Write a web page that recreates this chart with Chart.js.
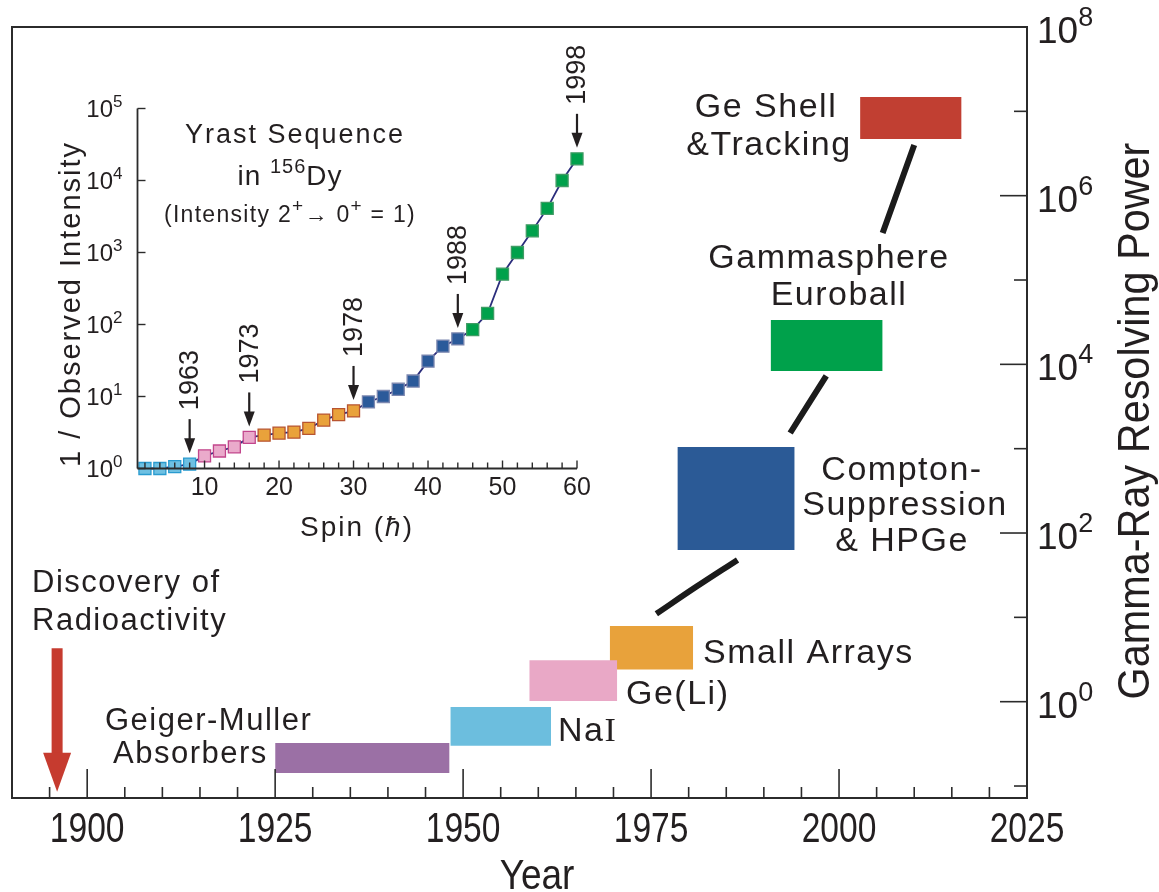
<!DOCTYPE html>
<html>
<head>
<meta charset="utf-8">
<script src="https://cdn.jsdelivr.net/npm/chart.js@4.4.0/dist/chart.umd.min.js"></script>
<style>
  html, body { margin: 0; padding: 0; background: #fff; }
  #wrap { position: relative; width: 1159px; height: 892px; }
  #wrap canvas { position: absolute; left: 0; top: 0; }
</style>
</head>
<body>
<div id="wrap">
  <canvas id="mainChart" width="1159" height="892"></canvas>
  <canvas id="insetChart" width="1159" height="892"></canvas>
</div>
<script>
// ---- main chart data: detector generations ----
const detectorNames = ['Geiger-Muller Absorbers', 'NaI', 'Ge(Li)', 'Small Arrays',
  'Compton-Suppression & HPGe', 'Gammasphere Euroball', 'Ge Shell & Tracking'];
const startYears = [1925.0, 1948.3, 1958.8, 1969.5, 1978.5, 1990.9, 2002.8];
const endYears   = [1948.2, 1961.7, 1970.5, 1980.6, 1994.1, 2005.8, 2016.3];
const powerLow   = [0.143, 0.30, 1.02, 2.4, 63, 8350, 4.7e6];
const powerHigh  = [0.324, 0.865, 3.1, 7.9, 1050, 33600, 1.48e7];

// trend segments joining the later generations
const trendYears = [[1975.7, 1981.0, 1986.5], [1993.5, 1998.3], [2005.8, 2010.0]];
const trendPower = [[11, 23, 48], [1535, 7280], [3.6e5, 4.0e6]];

// discovery of radioactivity
const discoveryYear = 1896;
const discoveryPowerTop = 4.3;
const discoveryPowerTip = 0.0857;

const yearTicks = [1900, 1925, 1950, 1975, 2000, 2025];
const powerExponents = [0, 2, 4, 6, 8];

// ---- inset data: yrast sequence in 156Dy ----
const spins = [2, 4, 6, 8, 10, 12, 14, 16, 18, 20, 22, 24, 26, 28, 30,
  32, 34, 36, 38, 40, 42, 44, 46, 48, 50, 52, 54, 56, 58, 60];
const inverseIntensity = [1, 1, 1.06, 1.15, 1.5, 1.75, 2.0, 2.7, 2.9, 3.1, 3.2, 3.6, 4.7, 5.6, 6.3,
  8.4, 10, 12.6, 16.4, 31, 50, 63, 85, 143, 500, 1000, 2000, 4100, 10000, 20000];
const milestoneYears = ['1963', '1973', '1978', '1988', '1998'];
const milestoneSpins = [8, 16, 30, 44, 60];
const spinTicks = [10, 20, 30, 40, 50, 60];
const intensityExponents = [0, 1, 2, 3, 4, 5];

// colours
const boxColors = ['#9b70a5', '#6cbede', '#e9a8c6', '#e8a23b', '#2b5a96', '#00a14b', '#c13f32'];
const eraFill   = ['#6ec0e2', '#eaaacb', '#e9a23b', '#2b5a9a', '#00a14b'];
const eraBorder = ['#2a9bcf', '#c2468c', '#b85430', '#7d88b0', '#3f9c64'];

const SANS = '"Liberation Sans", Arial, Helvetica, sans-serif';
const INK = '#231f20';

function drawRich(ctx, segs, x, y, align, spacing) {
  ctx.letterSpacing = (spacing || 0) + 'px';
  let total = 0;
  segs.forEach(s => { ctx.font = s[1]; total += ctx.measureText(s[0]).width; });
  let cx = align === 'center' ? x - total / 2 : align === 'right' ? x - total : x;
  ctx.textAlign = 'left';
  ctx.textBaseline = 'alphabetic';
  segs.forEach(s => {
    ctx.font = s[1];
    ctx.fillText(s[0], cx, y - (s[2] || 0));
    cx += ctx.measureText(s[0]).width;
  });
  ctx.letterSpacing = '0px';
}

// condensed text: squeeze horizontally around the anchor
function drawNarrow(ctx, text, x, y, font, squeeze, rotate) {
  ctx.save();
  ctx.translate(x, y);
  if (rotate) ctx.rotate(-Math.PI / 2);
  ctx.scale(squeeze, 1);
  ctx.font = font;
  ctx.textAlign = 'center';
  ctx.textBaseline = rotate ? 'middle' : 'alphabetic';
  ctx.fillText(text, 0, 0);
  ctx.restore();
}

function seg(ctx, x1, y1, x2, y2) {
  ctx.beginPath(); ctx.moveTo(x1, y1); ctx.lineTo(x2, y2); ctx.stroke();
}

// ---------------- main chart ----------------
const mainDecor = {
  id: 'mainDecor',
  afterDraw(chart) {
    const { ctx, chartArea: a, scales: { x, y } } = chart;
    ctx.save();
    ctx.strokeStyle = '#2b2b2b';
    ctx.lineWidth = 2;
    ctx.strokeRect(a.left, a.top, a.right - a.left, a.bottom - a.top);

    ctx.lineWidth = 1.6;
    for (let yr = 1895; yr < 2025; yr += 5) {
      const px = x.getPixelForValue(yr);
      seg(ctx, px, a.bottom, px, a.bottom - (yr % 25 === 0 ? 29 : 11));
    }
    for (let e = -1; e < 8; e++) {
      const py = y.getPixelForValue(Math.pow(10, e));
      seg(ctx, a.right, py, a.right - (e % 2 === 0 ? 27 : 13), py);
    }

    ctx.fillStyle = INK;
    yearTicks.forEach(yr => drawNarrow(ctx, String(yr), x.getPixelForValue(yr), 842, '42px ' + SANS, 0.8));
    drawNarrow(ctx, 'Year', 537, 889, '43px ' + SANS, 0.86);

    powerExponents.forEach(e => {
      const py = y.getPixelForValue(Math.pow(10, e));
      drawRich(ctx, [['10', '37px ' + SANS, 0], [String(e), '27px ' + SANS, 17]], a.right + 10, py + 16, 'left');
    });
    drawNarrow(ctx, 'Gamma-Ray Resolving Power', 1137, 421, '45px ' + SANS, 0.92, true);

    // discovery arrow
    const ax = x.getPixelForValue(discoveryYear);
    const top = y.getPixelForValue(discoveryPowerTop);
    const tip = y.getPixelForValue(discoveryPowerTip);
    ctx.fillStyle = '#c63b2f';
    ctx.fillRect(ax - 5.5, top, 11, tip - 39 - top + 1);
    ctx.beginPath();
    ctx.moveTo(ax - 14, tip - 39);
    ctx.lineTo(ax + 14, tip - 39);
    ctx.lineTo(ax, tip);
    ctx.closePath();
    ctx.fill();

    // labels
    ctx.fillStyle = INK;
    const fs = '31px ' + SANS;
    const fl = '34px ' + SANS;
    const labels = [
      ['Discovery of', fs, 32, 592, 'left'], ['Radioactivity', fs, 32, 630, 'left'],
      ['Geiger-Muller', fs, 105, 730, 'left'], ['Absorbers', fs, 113, 763, 'left'],
      ['Ge(Li)', fl, 626, 704, 'left'], ['Small Arrays', fl, 703, 663, 'left'],
      ['Compton-', fl, 902, 480, 'center'], ['Suppression', fl, 905, 515, 'center'], ['& HPGe', fl, 902, 551, 'center'],
      ['Gammasphere', fl, 829, 268, 'center'], ['Euroball', fl, 839, 305, 'center'],
      ['Ge Shell', fl, 766, 117, 'center'], ['&Tracking', fl, 769, 155, 'center']
    ];
    labels.forEach(l => drawRich(ctx, [[l[0], l[1], 0]], l[2], l[3], l[4], 1.5));
    drawRich(ctx, [['Na', fl, 0], ['I', '34px "Liberation Serif", serif', 0]], 558, 741, 'left', 1.5);
    ctx.restore();
  }
};

const boxSets = detectorNames.map((name, i) => ({
  label: name,
  data: [{ x: startYears[i], y: powerHigh[i] }, { x: endYears[i], y: powerHigh[i] }],
  fill: { value: powerLow[i] },
  backgroundColor: boxColors[i],
  borderColor: boxColors[i],
  borderWidth: 0,
  pointRadius: 0,
  clip: false
}));
const trendSets = trendYears.map((ys, i) => ({
  label: 'trend ' + i,
  data: ys.map((yr, j) => ({ x: yr, y: trendPower[i][j] })),
  borderColor: '#1b1b1b',
  borderWidth: 6,
  borderCapStyle: 'butt',
  tension: 0.4,
  fill: false,
  pointRadius: 0
}));

new Chart(document.getElementById('mainChart').getContext('2d'), {
  type: 'line',
  data: { datasets: boxSets.concat(trendSets) },
  options: {
    responsive: false,
    animation: false,
    layout: { padding: { left: 12, top: 27, right: 132, bottom: 94 } },
    plugins: { legend: { display: false }, tooltip: { enabled: false } },
    scales: {
      x: { type: 'linear', min: 1890, max: 2025, display: false },
      y: { type: 'logarithmic', min: 0.0721, max: 1e8, display: false }
    }
  },
  plugins: [mainDecor]
});

// ---------------- inset chart ----------------
const eraOf = s => milestoneSpins.findIndex(m => s <= m);

const insetDecor = {
  id: 'insetDecor',
  afterDraw(chart) {
    const { ctx, chartArea: a, scales: { x, y } } = chart;
    ctx.save();
    ctx.strokeStyle = '#2b2b2b';
    ctx.lineWidth = 1.8;
    seg(ctx, a.left, a.top, a.left, a.bottom);
    seg(ctx, a.left, a.bottom, a.right, a.bottom);
    ctx.lineWidth = 1.4;
    intensityExponents.forEach(e => {
      const py = y.getPixelForValue(Math.pow(10, e));
      seg(ctx, a.left, py, a.left + 8, py);
    });
    for (let s = 2; s <= 60; s += 2) {
      const px = x.getPixelForValue(s);
      seg(ctx, px, a.bottom, px, a.bottom - (s % 10 === 0 ? 8 : 6));
    }

    ctx.fillStyle = INK;
    intensityExponents.forEach(e => {
      const py = y.getPixelForValue(Math.pow(10, e));
      drawRich(ctx, [['10', '24px ' + SANS, 0], [String(e), '17px ' + SANS, 10]], a.left - 15, py + 8, 'right');
    });
    ctx.font = '25px ' + SANS;
    ctx.textAlign = 'center';
    ctx.textBaseline = 'alphabetic';
    spinTicks.forEach(s => ctx.fillText(String(s), x.getPixelForValue(s), 495));

    drawRich(ctx, [['Spin (', '28px ' + SANS, 0], ['\u0127', 'italic 28px ' + SANS, 0], [')', '28px ' + SANS, 0]],
      357, 536, 'center', 2);
    ctx.save();
    ctx.translate(80, 304);
    ctx.rotate(-Math.PI / 2);
    drawRich(ctx, [['1 / Observed Intensity', '29px ' + SANS, 0]], 0, 0, 'center', 2);
    ctx.restore();

    drawRich(ctx, [['Yrast Sequence', '27px ' + SANS, 0]], 295, 143, 'center', 2);
    drawRich(ctx, [['in ', '28px ' + SANS, 0], ['156', '20px ' + SANS, 12], ['Dy', '28px ' + SANS, 0]], 290, 185, 'center', 1);
    drawRich(ctx, [['(Intensity 2', '23px ' + SANS, 0], ['+', '19px ' + SANS, 10],
      ['\u2192 0', '23px ' + SANS, 0], ['+', '19px ' + SANS, 10], [' = 1)', '23px ' + SANS, 0]], 290, 222, 'center', 1.3);

    // milestone arrows
    milestoneSpins.forEach((s, i) => {
      const px = x.getPixelForValue(s);
      const py = y.getPixelForValue(inverseIntensity[spins.indexOf(s)]);
      const tip = py - 11;
      ctx.strokeStyle = INK;
      ctx.lineWidth = 2.2;
      seg(ctx, px, tip - 34, px, tip - 10);
      ctx.beginPath();
      ctx.moveTo(px - 5.5, tip - 15);
      ctx.lineTo(px + 5.5, tip - 15);
      ctx.lineTo(px, tip);
      ctx.closePath();
      ctx.fill();
      ctx.save();
      ctx.translate(px, tip - 43);
      ctx.rotate(-Math.PI / 2);
      ctx.font = '27px ' + SANS;
      ctx.textAlign = 'left';
      ctx.textBaseline = 'middle';
      ctx.fillText(milestoneYears[i], 0, 1);
      ctx.restore();
    });
    ctx.restore();
  }
};

new Chart(document.getElementById('insetChart').getContext('2d'), {
  type: 'line',
  data: {
    datasets: [{
      label: 'Yrast sequence',
      data: spins.map((s, i) => ({ x: s, y: inverseIntensity[i] })),
      borderColor: '#2b2d7c',
      borderWidth: 1.8,
      tension: 0,
      pointStyle: 'rect',
      pointRadius: 8.5,
      pointBorderWidth: 1.3,
      pointBackgroundColor: spins.map(s => eraFill[eraOf(s)]),
      pointBorderColor: spins.map(s => eraBorder[eraOf(s)]),
      clip: false
    }]
  },
  options: {
    responsive: false,
    animation: false,
    layout: { padding: { left: 137.5, top: 108.5, right: 582, bottom: 423.5 } },
    plugins: { legend: { display: false }, tooltip: { enabled: false } },
    scales: {
      x: { type: 'linear', min: 1, max: 60, display: false },
      y: { type: 'logarithmic', min: 1, max: 1e5, display: false }
    }
  },
  plugins: [insetDecor]
});
</script>
</body>
</html>
